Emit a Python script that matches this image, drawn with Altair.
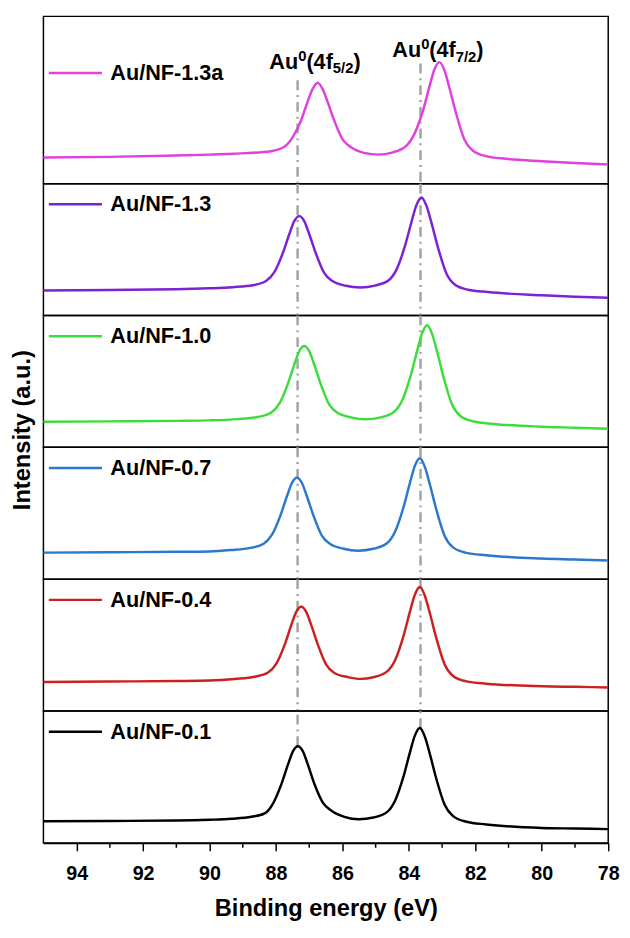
import altair as alt
import pandas as pd

FONT = "Liberation Sans"

names = ["Au/NF-1.3a", "Au/NF-1.3", "Au/NF-1.0", "Au/NF-0.7", "Au/NF-0.4", "Au/NF-0.1"]
colors = ["#E040E0", "#7B22D4", "#3DDC3D", "#2B78CC", "#CC2020", "#000000"]

e_13a = [95, 93, 91, 90, 89.3, 88.15, 87.75, 87.5, 87.25, 87.05, 86.9, 86.75, 86.6, 86.45, 86.25, 86.0, 85.75, 85.35,
         84.92, 84.48, 84.08, 83.83, 83.58, 83.38, 83.23, 83.08, 82.93, 82.78, 82.58, 82.33, 82.08, 81.68, 81.08, 80, 79, 78]
i_13a = [26.5, 27.2, 28.5, 29.5, 30.4, 33, 37.4, 47, 63.9, 83.1, 96, 102.5, 96.3, 83.5, 64.5, 45.3, 37.2, 31.3,
         29.5, 31.8, 38.3, 50.8, 73.6, 98.8, 116.2, 123.5, 115.2, 97.5, 71.6, 44.9, 33.7, 28, 25.3, 22.8, 21, 19.5]

e_13 = [95, 93, 91, 90, 89.3, 88.7, 88.3, 88.05, 87.8, 87.6, 87.45, 87.3, 87.15, 87.0, 86.8, 86.55, 86.3, 85.9,
        85.46, 85.02, 84.62, 84.37, 84.12, 83.92, 83.77, 83.62, 83.47, 83.32, 83.12, 82.87, 82.62, 82.22, 81.62, 80, 79, 78]
i_13 = [25.5, 26, 26.6, 27.6, 28.8, 30.7, 35, 44, 62.9, 82.6, 95.9, 101, 96, 82.8, 63.1, 43.3, 35, 30.2,
        28.5, 30.4, 35.5, 46.9, 70.4, 95.3, 112.4, 120, 111.4, 94.1, 68.6, 42.7, 31.5, 26.2, 23.8, 20.5, 19, 18]

e_10 = [95, 93, 91, 90, 89.15, 88.55, 88.15, 87.9, 87.65, 87.45, 87.3, 87.15, 87.0, 86.85, 86.65, 86.4, 86.15, 85.75,
        85.3, 84.85, 84.45, 84.2, 83.95, 83.75, 83.6, 83.45, 83.3, 83.15, 82.95, 82.7, 82.45, 82.05, 81.45, 80, 79, 78]
i_10 = [26, 26.4, 26.9, 27.4, 28.7, 30.8, 35.2, 44.4, 63.8, 84, 97.7, 103, 97.8, 84.2, 64, 43.6, 35.1, 30.5,
        28.5, 30.5, 36, 47.8, 72.3, 98.3, 116.1, 124, 115.1, 97.1, 70.5, 43.5, 31.9, 26.3, 23.8, 21, 20, 19]

e_07 = [95, 93, 91, 90, 89.37, 88.77, 88.37, 88.12, 87.87, 87.67, 87.52, 87.37, 87.22, 87.07, 86.87, 86.62, 86.37, 85.97,
        85.52, 85.07, 84.67, 84.42, 84.17, 83.97, 83.82, 83.67, 83.52, 83.37, 83.17, 82.92, 82.67, 82.27, 81.67, 80, 79, 78]
i_07 = [27, 27.4, 27.8, 28.2, 29.6, 31.8, 36.1, 45.2, 64.3, 84.3, 97.8, 103, 97.8, 84.3, 64.5, 44.3, 35.7, 31,
        29, 30.9, 36.2, 48, 72.1, 97.7, 115.2, 123, 114.2, 96.5, 70.3, 43.7, 32.3, 26.8, 24.3, 21, 20, 19]

e_04 = [95, 93, 91, 90, 89.24, 88.64, 88.24, 87.99, 87.74, 87.54, 87.39, 87.24, 87.09, 86.94, 86.74, 86.49, 86.24, 85.84,
        85.46, 85.07, 84.67, 84.42, 84.17, 83.97, 83.82, 83.67, 83.52, 83.37, 83.17, 82.92, 82.67, 82.27, 81.67, 80, 79, 78]
i_04 = [29.5, 30, 30.5, 31, 32.6, 34.8, 39.1, 48.2, 67.3, 87.3, 100.8, 106, 100.8, 87.5, 67.5, 47.2, 38.7, 34.5,
        32.7, 34.4, 39.8, 51.3, 75.4, 100.8, 118.2, 126, 117.2, 99.6, 73.6, 47.1, 35.7, 30.2, 27.8, 25.2, 24.6, 24]

e_01 = [95, 93, 91, 90, 89.34, 88.74, 88.34, 88.09, 87.84, 87.64, 87.49, 87.34, 87.19, 87.04, 86.84, 86.59, 86.34, 85.94,
        85.51, 85.07, 84.67, 84.42, 84.17, 83.97, 83.82, 83.67, 83.52, 83.37, 83.17, 82.92, 82.67, 82.27, 81.67, 80, 79, 78]
i_01 = [22, 22.3, 22.7, 23.5, 24.5, 26.5, 30, 40, 59.5, 79.5, 93.1, 98.3, 93.1, 79.5, 59.6, 41, 33, 26.5,
        24, 25.8, 31, 42.6, 66.5, 91.8, 109, 116.7, 108, 90.5, 64.7, 38.5, 27.2, 21.5, 18.8, 15.2, 14.6, 14]

energies = [e_13a, e_13, e_10, e_07, e_04, e_01]
intens = [i_13a, i_13, i_10, i_07, i_04, i_01]

# reference lines Au0 4f5/2, 4f7/2
ref_energy = [87.35, 83.65]
ref_top_start = [105, 122]      # where the lines begin in the top panel (below the labels)
ref_bottom_end = [98.3, 116.7]  # where they end in the bottom panel (peak tops)

# annotations
ann_energy = [88.2, 84.5]
ann_height = [117, 129]
ann_sub = ["5/2", "7/2"]

x_major = [94, 92, 90, 88, 86, 84, 82, 80, 78]
x_minor = [93, 91, 89, 87, 85, 83, 81, 79]

W = 574
heights = [170, 134, 134, 134, 134, 134]
legend_y = [29, -7.5, -7.5, -7.5, -7.5, -7.5]
DASH = [10, 5, 2, 5]
GREY = "#A3A3A3"

xscale = alt.Scale(domain=[78, 95], reverse=True, nice=False, zero=False)
bottom_axis = alt.Axis(values=x_major, title="Binding energy (eV)", titleFont=FONT, titleFontSize=24,
                       titleFontWeight="bold", titleColor="black", titlePadding=14,
                       labelFont=FONT, labelFontSize=20, labelFontWeight="bold", labelColor="black",
                       labelPadding=13, tickSize=8, tickWidth=1.5, tickColor="black",
                       domainColor="black", domainWidth=1.5, grid=False, labelFlush=False)


def panel(idx):
    h = heights[idx]
    last = idx == len(names) - 1
    xenc = alt.X("energy:Q", scale=xscale, axis=bottom_axis if last else None)
    yaxis = None
    if idx == 2:
        yaxis = alt.Axis(title="Intensity (a.u.)", labels=False, ticks=False, domain=False, grid=False,
                         titleFont=FONT, titleFontSize=24, titleFontWeight="bold", titleColor="black",
                         titleX=-9, titleY=116, titleAngle=-90, titleBaseline="bottom")
    yscale = alt.Scale(domain=[0, h], nice=False, zero=False)
    df = pd.DataFrame({"energy": energies[idx], "intensity": intens[idx], "series": names[idx]})
    line = alt.Chart(df).mark_line(strokeWidth=2.5, interpolate="monotone").encode(
        x=xenc,
        y=alt.Y("intensity:Q", scale=yscale, axis=yaxis),
        order=alt.Order("energy:Q", sort="descending"),
        color=alt.Color("series:N", scale=alt.Scale(domain=[names[idx]], range=[colors[idx]]),
                        legend=alt.Legend(title=None, orient="none", legendX=4, legendY=legend_y[idx],
                                          symbolType="stroke", symbolSize=2916, symbolStrokeWidth=2.5,
                                          labelFont=FONT, labelFontSize=22, labelFontWeight="bold",
                                          labelColor="black", labelOffset=7, padding=0,
                                          labelLimit=300)),
    )
    if idx == 0:
        rdf = pd.DataFrame({"energy": ref_energy, "start": ref_top_start})
        rules = alt.Chart(rdf).mark_rule(color=GREY, strokeWidth=2.5, strokeDash=DASH).encode(
            x=xenc, y=alt.Y("start:Q", scale=yscale, axis=None), y2=alt.value(h))
    elif last:
        rdf = pd.DataFrame({"energy": ref_energy, "end": ref_bottom_end})
        rules = alt.Chart(rdf).mark_rule(color=GREY, strokeWidth=2.5, strokeDash=DASH).encode(
            x=xenc, y=alt.Y("end:Q", scale=yscale, axis=None), y2=alt.value(0))
    else:
        rdf = pd.DataFrame({"energy": ref_energy})
        rules = alt.Chart(rdf).mark_rule(color=GREY, strokeWidth=2.5, strokeDash=DASH).encode(x=xenc)
    layers = [rules, line]
    if idx == 0:
        fs, fss = 22, 15
        w_au = 1.333 * fs
        w_sup = 0.556 * fss
        w_mid = 1.222 * fs
        w_sub = 1.39 * fss
        pieces = [("Au", fs, 0, 0), ("0", fss, w_au, -8), ("(4f", fs, w_au + w_sup, 0),
                  ("SUB", fss, w_au + w_sup + w_mid, 5), (")", fs, w_au + w_sup + w_mid + w_sub, 0)]
        for txt, size, dx, dy in pieces:
            texts = ann_sub if txt == "SUB" else [txt] * len(ann_energy)
            adf = pd.DataFrame({"energy": ann_energy, "height": ann_height, "t": texts})
            layers.append(alt.Chart(adf).mark_text(align="left", baseline="alphabetic", font=FONT,
                                                   fontSize=size, fontWeight="bold", color="black",
                                                   dx=dx, dy=dy).encode(
                x=xenc, y=alt.Y("height:Q", scale=yscale, axis=None), text="t:N"))
    if last:
        mdf = pd.DataFrame({"energy": x_minor})
        layers.append(alt.Chart(mdf).mark_rule(color="black", strokeWidth=1.5).encode(
            x=xenc, y=alt.value(h), y2=alt.value(h + 5)))
    return alt.layer(*layers).properties(width=W, height=h)


chart = alt.vconcat(*[panel(i) for i in range(len(names))], spacing=0, bounds="flush").resolve_scale(
    color="independent", y="independent").resolve_legend(color="independent").properties(
    padding={"left": 2, "top": 0, "right": 2, "bottom": 0}
).configure_view(stroke="black", strokeWidth=1.5)

chart.save("out.html", embed_options={"renderer": "svg", "actions": False})
